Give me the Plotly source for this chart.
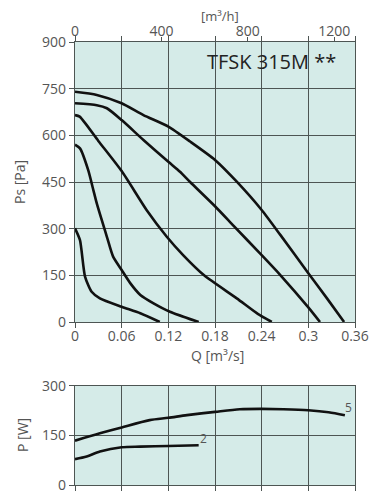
import plotly.graph_objects as go

# ---- pressure curves (Q [m3/s], Ps [Pa]) ----
qA = [0, 0.028, 0.06, 0.088, 0.12, 0.148, 0.18, 0.208, 0.24, 0.264, 0.3, 0.324, 0.346]
pA = [740, 730, 703, 665, 628, 580, 521, 451, 360, 280, 157, 76, 0]

qB = [0, 0.028, 0.041, 0.06, 0.088, 0.12, 0.135, 0.148, 0.18, 0.204, 0.24, 0.264, 0.3, 0.315]
pB = [703, 697, 687, 649, 585, 515, 483, 450, 372, 309, 215, 151, 47, 0]

qC = [0, 0.006, 0.03, 0.06, 0.092, 0.118, 0.139, 0.166, 0.208, 0.235, 0.253]
pC = [665, 660, 582, 485, 360, 274, 215, 150, 76, 26, 0]

qD = [0, 0.0064, 0.017, 0.0236, 0.028, 0.041, 0.049, 0.06, 0.071, 0.084, 0.101, 0.122, 0.159]
pD = [570, 558, 488, 424, 381, 274, 210, 167, 125, 87, 60, 33, 0]

qE = [0, 0.0064, 0.0129, 0.0214, 0.032, 0.06, 0.084, 0.109]
pE = [301, 263, 146, 97, 76, 49, 28, 0]

# ---- power curves (Q [m3/s], P [W]) ----
q5 = [0, 0.032, 0.06, 0.096, 0.12, 0.144, 0.18, 0.212, 0.24, 0.268, 0.3, 0.326, 0.347]
w5 = [134, 156, 174, 196, 203, 211, 221, 229, 230, 229, 226, 220, 211]
q2 = [0, 0.015, 0.032, 0.06, 0.084, 0.12, 0.159]
w2 = [78, 86, 101, 114, 116, 118, 120]

q_ticks = [0, 0.06, 0.12, 0.18, 0.24, 0.30, 0.36]
q_ticktext = ["0", "0.06", "0.12", "0.18", "0.24", "0.3", "0.36"]
ps_ticks = [0, 150, 300, 450, 600, 750, 900]
p_ticks = [0, 150, 300]
qh_ticks = [0, 400, 800, 1200]

BG = "#d5ebe8"
GRID = "#4d5553"
TXT = "#555555"
FONT = "Open Sans"

# page has an 8px body margin; figure is placed at (8, 8)
OFF = 8
W, H = 381 - OFF, 500 - OFF


def px(x):
    return (x - OFF) / W


def py(y):
    return 1 - (y - OFF) / H


fig = go.Figure()
for q, p in [(qA, pA), (qB, pB), (qC, pC), (qD, pD), (qE, pE)]:
    fig.add_trace(go.Scatter(x=q, y=p, mode="lines", xaxis="x", yaxis="y",
                             line=dict(color="#111111", width=2.6, shape="spline", smoothing=0.6),
                             showlegend=False, hoverinfo="skip"))
for q, w in [(q5, w5), (q2, w2)]:
    fig.add_trace(go.Scatter(x=q, y=w, mode="lines", xaxis="x2", yaxis="y2",
                             line=dict(color="#111111", width=2.6, shape="spline", smoothing=0.8),
                             showlegend=False, hoverinfo="skip"))
# dummy trace for the top m3/h axis
fig.add_trace(go.Scatter(x=[0, 1296], y=[None, None], xaxis="x3", yaxis="y",
                         mode="lines", showlegend=False, hoverinfo="skip"))

xd = [px(75), px(355)]
common = dict(showline=True, linecolor=GRID, linewidth=1.2, showgrid=True, gridcolor=GRID,
              gridwidth=1.2, zeroline=False, ticks="outside", ticklen=5, tickcolor=GRID,
              tickwidth=1.2, tickfont=dict(family=FONT, size=14, color=TXT), automargin=False)

fig.update_layout(
    width=W, height=H, margin=dict(l=0, r=0, t=0, b=0),
    paper_bgcolor="white", plot_bgcolor=BG,
    xaxis=dict(domain=xd, anchor="y", range=[0, 0.36], tickvals=q_ticks, ticktext=q_ticktext,
               mirror="ticks", ticklabelstandoff=-4, **common),
    yaxis=dict(domain=[py(322), py(42)], anchor="x", range=[0, 900],
               tickvals=ps_ticks, mirror=True, **common),
    xaxis2=dict(domain=xd, anchor="y2", range=[0, 0.36], tickvals=q_ticks,
                showticklabels=False, mirror=True, **common),
    yaxis2=dict(domain=[py(485), py(385.7)], anchor="x2", range=[0, 300],
                tickvals=p_ticks, mirror=True, **common),
    xaxis3=dict(overlaying="x", side="top", anchor="y", range=[0, 1296], tickvals=qh_ticks,
                showgrid=False, showline=False, zeroline=False, ticks="outside", ticklen=4,
                tickcolor=GRID, tickwidth=1.2, tickfont=dict(family=FONT, size=14, color=TXT),
                ticklabelstandoff=-5, automargin=False),
    font=dict(family=FONT, color=TXT),
)

ann = [
    dict(text="TFSK 315M **", x=px(338), y=py(62), xanchor="right", yanchor="middle",
         font=dict(family=FONT, size=20, color="#222222")),
    dict(text="Ps [Pa]", x=px(19), y=py(182), textangle=-90, xanchor="center",
         yanchor="middle", font=dict(family=FONT, size=14, color=TXT)),
    dict(text="P [W]", x=px(22), y=py(435), textangle=-90, xanchor="center",
         yanchor="middle", font=dict(family=FONT, size=14, color=TXT)),
    dict(text="Q [m³/s]", x=px(217), y=py(355), xanchor="center", yanchor="middle",
         font=dict(family=FONT, size=14, color=TXT)),
    dict(text="[m³/h]", x=px(220), y=py(16), xanchor="center", yanchor="middle",
         font=dict(family=FONT, size=13, color=TXT)),
]
for a in ann:
    a.update(xref="paper", yref="paper", showarrow=False)
fig.update_layout(annotations=ann)
fig.add_annotation(text="5", x=0.3514, y=235, xref="x2", yref="y2", showarrow=False,
                   font=dict(family=FONT, size=12, color=TXT))
fig.add_annotation(text="2", x=0.165, y=141, xref="x2", yref="y2", showarrow=False,
                   font=dict(family=FONT, size=12, color=TXT))

fig.write_html("out.html")
